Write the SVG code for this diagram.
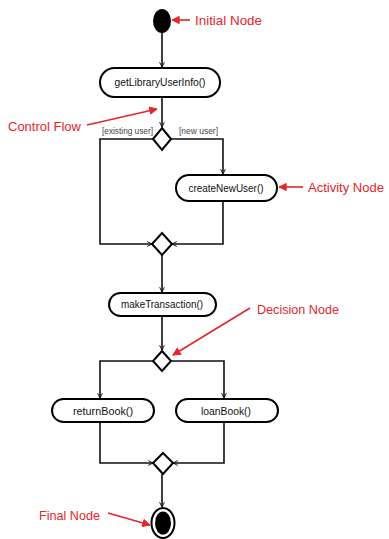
<svg xmlns="http://www.w3.org/2000/svg" width="389" height="539" viewBox="0 0 389 539">
<style>
.node{fill:#fff;stroke:#000;stroke-width:2}
.txt{font-family:"Liberation Sans",Arial,sans-serif;font-size:11px;fill:#111;text-anchor:middle}
.guard{font-family:"Liberation Sans",Arial,sans-serif;font-size:9px;fill:#444}
.lbl{font-family:"Liberation Sans",Arial,sans-serif;font-size:13.5px;fill:#e5242b}
.flow{fill:none;stroke:#111;stroke-width:1.6;marker-end:url(#ah)}
.plain{fill:none;stroke:#111;stroke-width:1.6}
.red{fill:none;stroke:#e5242b;stroke-width:1.6;marker-end:url(#rah)}
</style>
<defs>
<marker id="ah" viewBox="0 0 10 10" refX="9" refY="5" markerWidth="6" markerHeight="6" orient="auto" markerUnits="userSpaceOnUse">
<path d="M1,1 L9,5 L1,9" fill="none" stroke="#111" stroke-width="1.6"/>
</marker>
<marker id="rah" viewBox="0 0 10 10" refX="9" refY="5" markerWidth="9" markerHeight="9" orient="auto" markerUnits="userSpaceOnUse">
<path d="M1,1 L9,5 L1,9 Z" fill="#e5242b" stroke="#e5242b" stroke-width="1"/>
</marker>
</defs>
<rect width="389" height="539" fill="#fff"/>

<g id="connectors">
<path class="flow" d="M162,33 V67"/>
<path class="flow" d="M162,97 V127"/>
<path class="plain" d="M154,139 H100 V244 H152" marker-end="url(#ah)"/>
<path class="flow" d="M171,139 H223 V174"/>
<path class="flow" d="M223,201 V244 H172"/>
<path class="flow" d="M162,255 V292"/>
<path class="flow" d="M162,316 V350"/>
<path class="flow" d="M154,361 H100 V398"/>
<path class="flow" d="M171,361 H224 V398"/>
<path class="flow" d="M100,422 V463 H153"/>
<path class="flow" d="M224,422 V463 H173"/>
<path class="flow" d="M162,474 V507"/>
</g>

<g id="initial"><ellipse cx="162" cy="21" rx="9" ry="12" fill="#000"/></g>
<g id="getLibraryUserInfo"><rect class="node" x="100" y="68" width="120" height="29" rx="14.5"/><text class="txt" x="160" y="86" textLength="91" lengthAdjust="spacingAndGlyphs">getLibraryUserInfo()</text></g>
<g id="decision1"><path class="node" d="M162,128 L171,139 L162,150 L153,139 Z"/></g>
<g id="guards"><text class="guard" x="102" y="134" textLength="51" lengthAdjust="spacingAndGlyphs">[existing user]</text><text class="guard" x="179" y="134" textLength="39" lengthAdjust="spacingAndGlyphs">[new user]</text></g>
<g id="createNewUser"><rect class="node" x="176" y="175" width="101" height="26" rx="13"/><text class="txt" x="226" y="192" textLength="75" lengthAdjust="spacingAndGlyphs">createNewUser()</text></g>
<g id="merge1"><path class="node" d="M162,233 L172,244 L162,255 L152,244 Z"/></g>
<g id="makeTransaction"><rect class="node" x="109" y="293" width="107" height="23" rx="11.5"/><text class="txt" x="162" y="308" textLength="82" lengthAdjust="spacingAndGlyphs">makeTransaction()</text></g>
<g id="decision2"><path class="node" d="M162,351 L171,361 L162,371 L153,361 Z"/></g>
<g id="returnBook"><rect class="node" x="52" y="399" width="102" height="23" rx="11.5"/><text class="txt" x="103" y="415" textLength="60" lengthAdjust="spacingAndGlyphs">returnBook()</text></g>
<g id="loanBook"><rect class="node" x="176" y="399" width="102" height="23" rx="11.5"/><text class="txt" x="226" y="415" textLength="50" lengthAdjust="spacingAndGlyphs">loanBook()</text></g>
<g id="merge2"><path class="node" d="M163,453 L173,463 L163,474 L153,463 Z"/></g>
<g id="final"><ellipse cx="163" cy="523" rx="11.5" ry="15" fill="#fff" stroke="#000" stroke-width="2"/><ellipse cx="163" cy="523" rx="8" ry="11.5" fill="#000"/></g>

<g id="annotations">
<path class="red" d="M190,20 H172"/>
<text class="lbl" x="195" y="25" textLength="67" lengthAdjust="spacingAndGlyphs">Initial Node</text>
<path class="red" d="M87,125 L157,109"/>
<text class="lbl" x="8" y="131" textLength="73" lengthAdjust="spacingAndGlyphs">Control Flow</text>
<path class="red" d="M303,187 H279"/>
<text class="lbl" x="308" y="192" textLength="76" lengthAdjust="spacingAndGlyphs">Activity Node</text>
<path class="red" d="M250,308 L173,355"/>
<text class="lbl" x="257" y="314" textLength="82" lengthAdjust="spacingAndGlyphs">Decision Node</text>
<path class="red" d="M108,513 L150,525"/>
<text class="lbl" x="39" y="520" textLength="61" lengthAdjust="spacingAndGlyphs">Final Node</text>
</g>
</svg>
